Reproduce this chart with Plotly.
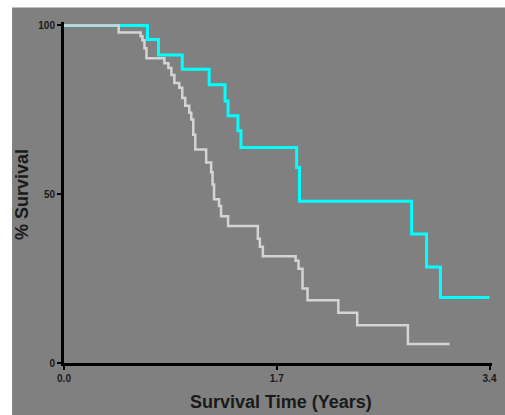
import plotly.graph_objects as go

# Gray group (Kaplan-Meier steps)
gray_time = [0, 0.437, 0.612, 0.627, 0.643, 0.659, 0.802, 0.834, 0.858, 0.882, 0.921, 0.945,
             0.969, 1.001, 1.017, 1.033, 1.049, 1.136, 1.176, 1.187, 1.199, 1.239, 1.255, 1.311,
             1.549, 1.565, 1.589, 1.851, 1.874, 1.906, 1.946, 2.192, 2.343, 2.748, 3.082]
gray_surv = [100, 97.9, 96.8, 95.6, 93.2, 90.3, 88.8, 87.4, 85.3, 82.9, 81.5, 78.5,
             76.2, 74.1, 72.1, 67.6, 63.2, 59.4, 56.5, 52.9, 48.5, 46.5, 43.5, 40.6,
             36.8, 34.4, 31.6, 30.3, 27.9, 22.1, 18.6, 14.9, 11.2, 5.6, 5.6]

# Cyan group
cyan_time = [0, 0.667, 0.755, 0.945, 1.160, 1.287, 1.311, 1.390, 1.414, 1.859, 1.882,
             2.778, 2.897, 3.008, 3.40]
cyan_surv = [100, 95.8, 91.2, 87.0, 82.4, 77.6, 73.2, 68.8, 63.8, 57.9, 47.9,
             38.2, 28.4, 19.4, 19.4]

x_ticks = [0.0, 1.7, 3.4]
x_tick_labels = ["0.0", "1.7", "3.4"]
y_ticks = [0, 50, 100]
y_tick_labels = ["0", "50", "100"]

x_title = "Survival Time (Years)"
y_title = "% Survival"

BG = "#808080"
FONT = "Liberation Sans, Arial, sans-serif"

fig = go.Figure()
fig.add_trace(go.Scatter(x=cyan_time, y=cyan_surv, mode="lines", line_shape="hv",
                         line=dict(color="#00ffff", width=3), showlegend=False))
fig.add_trace(go.Scatter(x=gray_time, y=gray_surv, mode="lines", line_shape="hv",
                         line=dict(color="#d4d4d4", width=2.5), showlegend=False))

L, R, T, B = 64, 12.8, 21.6, 51.5
W, H = 505, 415
pw = W - L - R
ph = H - T - B

def px_x(px):
    return (px - L) / pw

def px_y(py):
    return (H - B - py) / ph

axis_common = dict(showline=True, linecolor="black", linewidth=3, ticks="outside",
                   ticklen=4, tickwidth=2, tickcolor="black", showgrid=False, zeroline=False,
                   automargin=False,
                   tickfont=dict(family=FONT, size=10, color="#1a1a1a", weight="bold"))

fig.update_layout(
    width=W, height=H,
    margin=dict(l=L, r=R, t=T, b=B, pad=0, autoexpand=False),
    paper_bgcolor=BG, plot_bgcolor=BG,
    xaxis=dict(range=[0, 3.42], tickvals=x_ticks, ticktext=x_tick_labels, **axis_common),
    yaxis=dict(range=[0, 101], tickvals=y_ticks, ticktext=y_tick_labels, **axis_common),
    shapes=[
        dict(type="rect", xref="paper", yref="paper", x0=px_x(-5), x1=px_x(12),
             y0=px_y(430), y1=px_y(-5), fillcolor="white", line=dict(width=0), layer="above"),
        dict(type="rect", xref="paper", yref="paper", x0=px_x(-5), x1=px_x(510),
             y0=px_y(7), y1=px_y(-5), fillcolor="white", line=dict(width=0), layer="above"),
    ],
    annotations=[
        dict(text=f"<b>{x_title}</b>", xref="paper", yref="paper", x=px_x(281), y=px_y(403),
             xanchor="center", yanchor="middle", showarrow=False,
             font=dict(family=FONT, size=18, color="#1a1a1a")),
        dict(text=f"<b>{y_title}</b>", xref="paper", yref="paper", x=px_x(22), y=px_y(195),
             xanchor="center", yanchor="middle", textangle=-90, showarrow=False,
             font=dict(family=FONT, size=18, color="#1a1a1a")),
    ],
)

fig.write_html("out.html")
